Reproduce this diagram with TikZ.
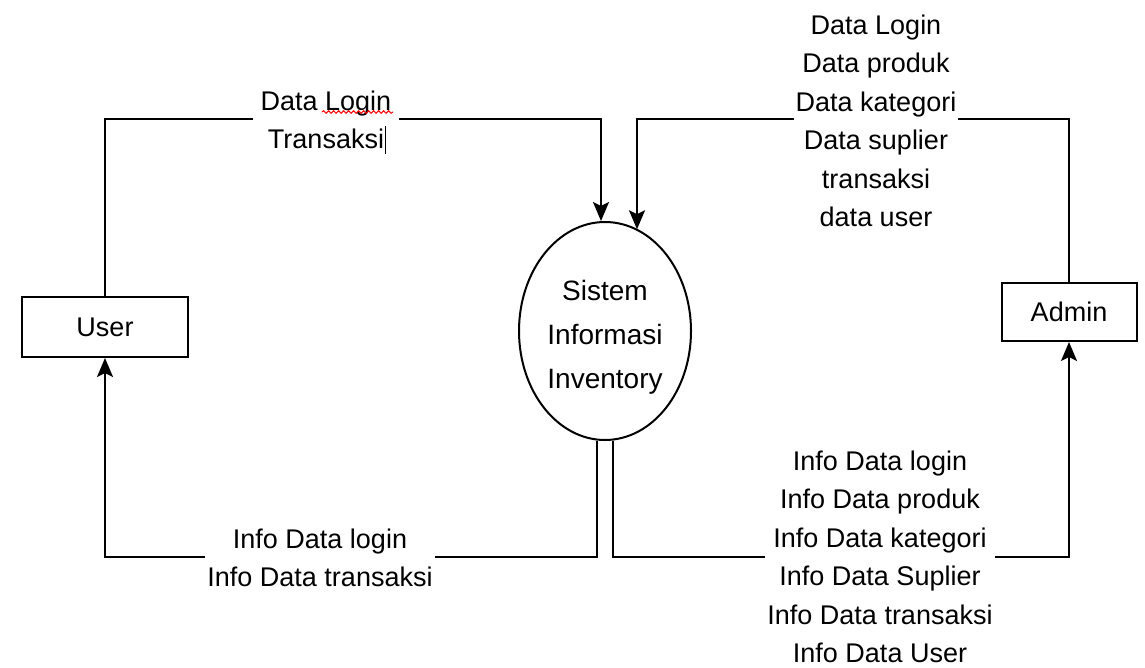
\documentclass[tikz,border=0pt]{standalone}
\usepackage{fontspec}
\setmainfont{Liberation Sans}
\usetikzlibrary{arrows.meta,shapes.geometric,decorations.pathmorphing}

\begin{document}
\begin{tikzpicture}[x=1pt,y=-1pt,
    flow/.style={line width=2pt},
    arr/.style={flow,-{Stealth[length=19pt,width=16pt,inset=4pt]}},
    entity/.style={draw,line width=2pt,font=\fontsize{27}{32}\selectfont},
    lbl/.style={fill=white,inner ysep=0pt,inner xsep=2pt,align=center,font=\fontsize{27}{38.5}\selectfont}]
  \useasboundingbox (0,0) rectangle (1145,667);

  \node[entity,minimum width=166pt,minimum height=60pt] (user) at (105,327) {User};
  \node[entity,minimum width=135pt,minimum height=58pt] (admin) at (1069,312) {Admin};
  \node[draw,ellipse,line width=2pt,inner sep=0pt,minimum width=172pt,minimum height=218pt,
    align=center,font=\fontsize{28}{44}\selectfont] (sis) at (605,331) {\rule{0pt}{33pt}Sistem\\Informasi\\Inventory};

  % flows into the system
  \coordinate (c1) at (601,119);
  \coordinate (c2) at (637,119);
  \draw[arr] (user.north) |- (c1) -- (c1 |- sis.north);
  \draw[arr] (admin.north) |- (c2) -- (c2 |- sis.72);

  % flows out of the system
  \coordinate (c3) at (597,557);
  \coordinate (c4) at (613,557);
  \draw[arr] (sis.south -| c3) -- (c3) -| (user.south);
  \draw[arr] (sis.south -| c4) -- (c4) -| (admin.south);

  \node[lbl,inner xsep=8pt] (inuser) at (326,120) {Data Login\\Transaksi};
  \node[lbl] (inadmin) at (876,121) {Data Login\\Data produk\\Data kategori\\Data suplier\\transaksi\\data user};
  \node[lbl] (outuser) at (320,558) {Info Data login\\Info Data transaksi};
  \node[lbl] (outadmin) at (880,557) {Info Data login\\Info Data produk\\Info Data kategori\\Info Data Suplier\\Info Data transaksi\\Info Data User};

  \draw[red,line width=1pt,decorate,decoration={snake,amplitude=1.3pt,segment length=5pt}] (322,112) -- (393,112);
  \draw[line width=1pt] (385,126) -- (385,154);
\end{tikzpicture}
\end{document}
